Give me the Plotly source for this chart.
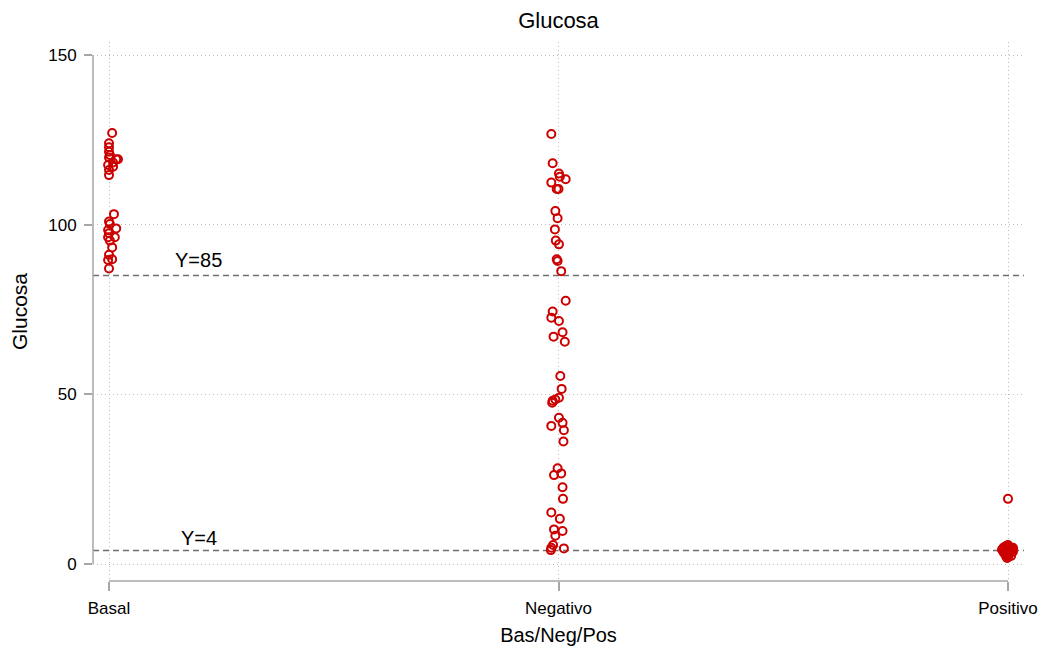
import plotly.graph_objects as go

# Group labels on the x axis
categories = ["Basal", "Negativo", "Positivo"]

# Glucose readings per group, with a small horizontal jitter (in category units)
basal_glucosa = [127.0, 124.0, 122.8, 121.5, 120.5, 119.3, 119.3, 119.8, 118.3, 117.6,
                 117.1, 116.1, 114.6,
                 103.1, 100.9, 100.2, 98.9, 98.4, 97.5, 96.3, 96.3, 95.3, 93.3,
                 91.1, 89.8, 89.6, 87.1]
basal_jitter = [0.007, 0.000, 0.000, 0.000, 0.002, 0.016, 0.020, 0.000, 0.009, -0.002,
                0.009, 0.000, 0.000,
                0.011, 0.000, 0.002, 0.016, -0.002, 0.000, 0.013, -0.002, 0.002, 0.007,
                0.000, 0.007, -0.002, 0.000]

negativo_glucosa = [126.7, 118.1, 115.1, 114.1, 113.4, 112.4, 110.5, 110.5, 104.0, 101.9,
                    98.6, 95.3, 94.2, 89.8, 89.3, 86.3,
                    77.6, 74.4, 72.6, 71.6, 68.3, 67.0, 65.5,
                    55.4, 51.6, 49.0, 48.5, 48.1, 47.5, 43.1, 41.6, 40.7, 39.4, 36.1,
                    28.2, 26.7, 26.2, 22.6, 19.2, 15.2, 13.3, 10.2, 9.7, 8.3,
                    5.6, 4.8, 4.1, 4.6]
negativo_jitter = [-0.016, -0.013, 0.001, 0.003, 0.016, -0.016, -0.004, 0.000, -0.007, -0.002,
                   -0.008, -0.006, 0.001, -0.004, -0.002, 0.006,
                   0.016, -0.013, -0.016, 0.001, 0.009, -0.011, 0.014,
                   0.004, 0.007, 0.001, -0.007, -0.013, -0.014, 0.001, 0.009, -0.016, 0.012, 0.011,
                   -0.002, 0.006, -0.010, 0.009, 0.010, -0.016, 0.003, -0.010, 0.009, -0.007,
                   -0.012, -0.016, -0.017, 0.012]

positivo_glucosa = [19.2,
                    5.6, 5.3, 5.0, 4.9, 4.7, 4.6, 4.5, 4.4, 4.3, 4.2,
                    4.1, 4.0, 3.9, 3.8, 3.7, 3.6, 3.5, 3.4, 3.2, 3.0,
                    2.8, 2.6, 2.4, 2.2, 2.0, 1.8, 4.8, 4.2, 3.9, 3.3]
positivo_jitter = [0.000,
                   0.000, -0.004, 0.004, -0.009, 0.007, -0.011, 0.002, 0.011, -0.007, -0.013,
                   0.009, 0.000, -0.011, 0.007, -0.004, 0.011, -0.009, 0.002, 0.004, -0.007,
                   0.000, -0.002, 0.007, -0.004, 0.000, -0.002, 0.011, -0.013, 0.004, -0.009]

# Reference lines
ref_lines = [85, 4]
ref_labels = ["Y=85", "Y=4"]
ref_label_shift = [16, 12]   # px above each line

y_ticks = [0, 50, 100, 150]

RED = "#cc0000"
AXIS_GRAY = "#a6a6a6"
GRID_GRAY = "#bdbdbd"
FONT = "Liberation Sans, Arial, sans-serif"

groups = [(0, basal_glucosa, basal_jitter),
          (1, negativo_glucosa, negativo_jitter),
          (2, positivo_glucosa, positivo_jitter)]

fig = go.Figure()
for idx, vals, jit in groups:
    fig.add_trace(go.Scatter(
        x=[idx + j for j in jit],
        y=vals,
        mode="markers",
        marker=dict(symbol="circle-open", size=8, color=RED,
                    line=dict(color=RED, width=2)),
        showlegend=False,
        hoverinfo="y",
    ))

# Dashed horizontal reference lines with their labels
for val, lab, sh in zip(ref_lines, ref_labels, ref_label_shift):
    fig.add_shape(type="line", xref="x domain", yref="y",
                  x0=0, x1=1, y0=val, y1=val,
                  line=dict(color="#6e6e6e", width=1.5, dash="6px,4px"), layer="below")
    fig.add_annotation(x=0.2, y=val, xref="x", yref="y", text=lab,
                       showarrow=False, xanchor="center", yanchor="middle", yshift=sh,
                       font=dict(family=FONT, size=20, color="#000000"))

# Detached axis lines spanning only the tick range
fig.add_shape(type="line", xref="x domain", yref="y", x0=0, x1=0,
              y0=min(y_ticks), y1=max(y_ticks), line=dict(color=AXIS_GRAY, width=1.5))
fig.add_shape(type="line", xref="x", yref="y domain", x0=0, x1=len(categories) - 1,
              y0=0, y1=0, line=dict(color=AXIS_GRAY, width=1.5))

fig.update_layout(
    width=1043, height=653,
    margin=dict(l=93, r=19, t=42, b=72, autoexpand=False),
    paper_bgcolor="white", plot_bgcolor="white",
    font=dict(family=FONT, color="#000000"),
    title=dict(text="Glucosa", x=0.5, xref="paper", xanchor="center",
               y=1 - 20 / 653, yanchor="middle", font=dict(size=22)),
)

fig.update_xaxes(
    range=[-0.0356, 2.0356], automargin=False,
    tickvals=[0, 1, 2], ticktext=categories,
    ticks="outside", ticklen=9, tickwidth=1.5, tickcolor=AXIS_GRAY,
    tickfont=dict(size=17), ticklabelstandoff=3,
    showline=False, zeroline=False,
    showgrid=True, gridcolor=GRID_GRAY, griddash="1px,3px", gridwidth=1,
    title=dict(text="Bas/Neg/Pos", font=dict(size=20), standoff=10),
)
fig.update_yaxes(
    range=[-5.01, 153.83], automargin=False,
    tickvals=y_ticks,
    ticks="outside", ticklen=8, tickwidth=1.5, tickcolor=AXIS_GRAY,
    tickfont=dict(size=17), ticklabelstandoff=4,
    showline=False, zeroline=False,
    showgrid=True, gridcolor=GRID_GRAY, griddash="1px,3px", gridwidth=1,
    title=dict(text="Glucosa", font=dict(size=21), standoff=14),
)

fig.write_html("out.html")
